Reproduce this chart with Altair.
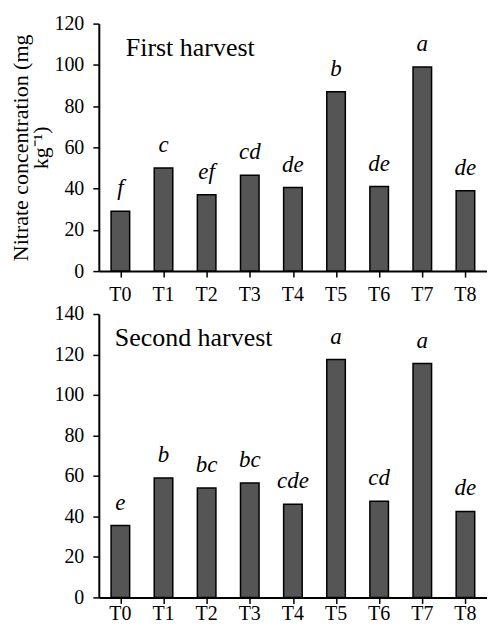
import altair as alt
import pandas as pd

treatments = ["T0", "T1", "T2", "T3", "T4", "T5", "T6", "T7", "T8"]
first_values = [29, 50, 37, 46.5, 40.5, 87, 41, 99, 39]
first_letters = ["f", "c", "ef", "cd", "de", "b", "de", "a", "de"]
second_values = [35.5, 59, 54, 56.5, 46, 117.5, 47.5, 115.5, 42.5]
second_letters = ["e", "b", "bc", "bc", "cde", "a", "cd", "a", "de"]

FONT = "'Liberation Serif', 'Times New Roman', serif"
W = 389


def panel(values, letters, title, ymax, height, ytitle, title_dx, xpad):
    df = pd.DataFrame({"t": treatments, "v": values, "l": letters})
    base = alt.Chart(df)
    yaxis = alt.Axis(
        values=list(range(0, ymax + 1, 20)),
        grid=False,
        domainColor="black",
        domainWidth=2,
        tickColor="black",
        tickWidth=1.5,
        tickSize=6,
        labelFont=FONT,
        labelFontSize=20,
        labelColor="black",
        labelPadding=9,
        title=ytitle if ytitle else None,
        titleFont=FONT,
        titleFontSize=22,
        titleFontWeight="normal",
        titleColor="black",
        titleLineHeight=20,
        titlePadding=1,
    )
    yscale = alt.Scale(domain=[0, ymax], nice=False)
    bars = base.mark_bar(fill="#555555", stroke="black", strokeWidth=1.5).encode(
        x=alt.X(
            "t:N",
            sort=treatments,
            scale=alt.Scale(paddingInner=0.57, paddingOuter=0.285),
            axis=alt.Axis(
                title=None,
                orient="bottom",
                ticks=False,
                tickSize=0,
                domain=False,
                labelAngle=0,
                labelFont=FONT,
                labelFontSize=20,
                labelColor="black",
                labelPadding=xpad,
            ),
        ),
        y=alt.Y("v:Q", scale=yscale, axis=yaxis),
    )
    labels = base.mark_text(
        font=FONT, fontSize=23, fontStyle="italic", baseline="alphabetic", dy=-16, color="black"
    ).encode(
        x=alt.X(
            "t:N",
            sort=treatments,
            scale=alt.Scale(paddingInner=0, paddingOuter=0),
            axis=alt.Axis(
                title=None,
                orient="bottom",
                labels=False,
                bandPosition=0,
                tickSize=6,
                tickWidth=1.5,
                tickColor="black",
                domainColor="black",
                domainWidth=2,
            ),
        ),
        y=alt.Y("v:Q", scale=yscale, axis=yaxis),
        text="l:N",
    )
    ttl = alt.Chart(pd.DataFrame({"name": [title]})).mark_text(
        font=FONT, fontSize=26, align="left", baseline="alphabetic", color="black"
    ).encode(x=alt.value(title_dx), y=alt.value(32), text="name:N")
    return alt.layer(bars, labels, ttl).resolve_scale(x="independent").properties(
        width=W, height=height
    )


top = panel(
    first_values,
    first_letters,
    "First harvest",
    120,
    248,
    ["Nitrate concentration (mg", "\u00a0" * 10 + "kg\u207b\u00b9)"],
    27,
    13,
)
bottom = panel(second_values, second_letters, "Second harvest", 140, 284, None, 16, 6)

chart = (
    alt.vconcat(top, bottom, spacing=0)
    .properties(padding={"left": 2, "top": 5, "right": 0, "bottom": 0})
    .configure(font=FONT)
    .configure_view(stroke=None)
)

chart.save("out.html", embed_options={"renderer": "svg", "actions": False})
